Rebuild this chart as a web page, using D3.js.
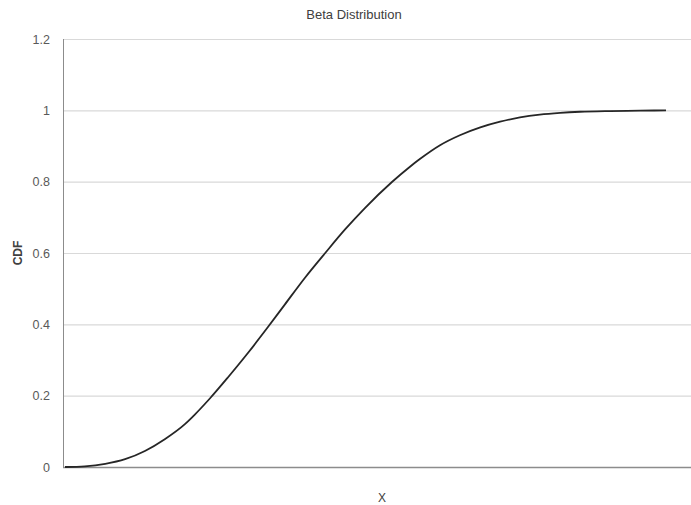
<!DOCTYPE html>
<html>
<head>
<meta charset="utf-8">
<script src="https://cdn.jsdelivr.net/npm/d3@7"></script>
<style>
html,body{margin:0;padding:0;background:#fff;}
svg{display:block;font-family:"Liberation Sans Narrow","Liberation Sans",Arial,sans-serif;}
</style>
</head>
<body>
<svg id="chart" width="691" height="505"></svg>
<script>
const title = "Beta Distribution";
const xLabel = "X";
const yLabel = "CDF";
const yTicks = [0, 0.2, 0.4, 0.6, 0.8, 1, 1.2];
const xValues = [0.000,0.033,0.067,0.100,0.133,0.166,0.200,0.216,0.241,0.271,0.305,0.338,0.366,0.399,0.433,0.466,0.499,0.544,0.574,0.591,0.624,0.657,0.691,0.724,0.757,0.790,0.824,0.857,0.907,0.957,1.000];
const cdfValues = [0.000,0.002,0.009,0.022,0.045,0.078,0.121,0.147,0.192,0.251,0.321,0.393,0.456,0.530,0.600,0.666,0.726,0.799,0.842,0.864,0.902,0.930,0.952,0.968,0.980,0.988,0.993,0.996,0.998,0.999,1.000];

const svg = d3.select("#chart");
const mLeft = 63, mRight = 700, mTop = 39, mBottom = 467;
const x = d3.scaleLinear().domain([0, 1]).range([65, 666]);
const y = d3.scaleLinear().domain([0, 1.2]).range([mBottom, mTop]);

// gridlines
const grid = svg.append("g")
  .attr("transform", `translate(${mLeft},0)`)
  .call(d3.axisLeft(y).tickValues(yTicks).tickSize(-(mRight - mLeft)).tickFormat(""));
grid.select(".domain").remove();
grid.selectAll("line").attr("stroke", "#d9d9d9").attr("stroke-width", 1.2);

// tick labels
const ax = svg.append("g")
  .attr("transform", `translate(${mLeft},0)`)
  .call(d3.axisLeft(y).tickValues(yTicks).tickSize(0).tickPadding(13).tickFormat(d => d3.format("~g")(d)));
ax.select(".domain").remove();
ax.selectAll("text").attr("fill", "#595959").style("font-size", "12.5px")
  .style("font-family", '"Liberation Sans Narrow","Liberation Sans",Arial,sans-serif');

// axis lines
svg.append("line").attr("x1", mLeft + 0.5).attr("x2", mLeft + 0.5).attr("y1", mTop).attr("y2", mBottom)
  .attr("stroke", "#8c8c8c").attr("stroke-width", 1);
svg.append("line").attr("x1", mLeft).attr("x2", mRight).attr("y1", mBottom + 0.5).attr("y2", mBottom + 0.5)
  .attr("stroke", "#8c8c8c").attr("stroke-width", 1.5);

// curve
const pts = xValues.map((v, i) => [v, cdfValues[i]]);
svg.append("path")
  .datum(pts)
  .attr("fill", "none")
  .attr("stroke", "#262626")
  .attr("stroke-width", 1.8)
  .attr("d", d3.line().x(d => x(d[0])).y(d => y(d[1])).curve(d3.curveMonotoneX));

// title
svg.append("text").attr("x", 354).attr("y", 19).attr("text-anchor", "middle")
  .attr("fill", "#404040").style("font-size", "13px").text(title);
// x label
svg.append("text").attr("x", 382).attr("y", 502).attr("text-anchor", "middle")
  .attr("fill", "#404040").style("font-size", "12px").text(xLabel);
// y label
svg.append("text").attr("transform", "translate(22,253) rotate(-90)").attr("text-anchor", "middle")
  .attr("fill", "#404040").style("font-size", "12px").style("font-weight", "bold").text(yLabel);
</script>
</body>
</html>
